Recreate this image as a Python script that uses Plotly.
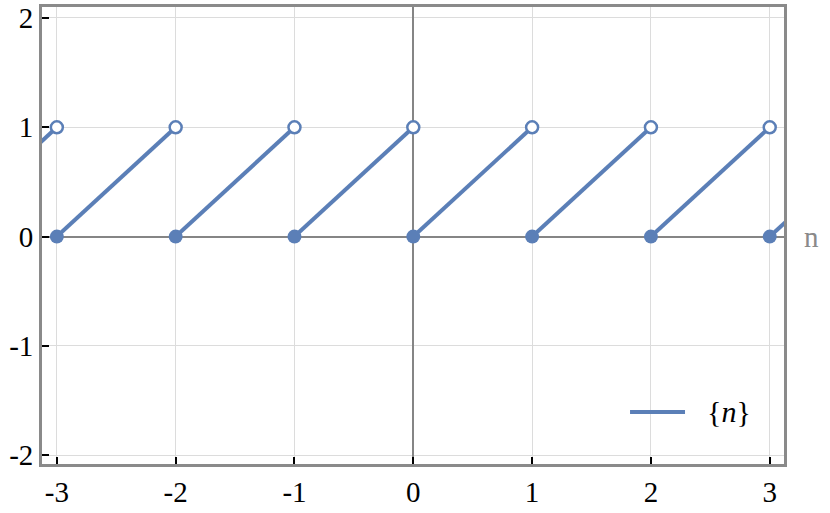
import plotly.graph_objects as go

# sawtooth {n}: one segment per unit interval, None breaks between them
seg_x = [-4, -3, None, -3, -2, None, -2, -1, None, -1, 0, None,
         0, 1, None, 1, 2, None, 2, 3, None, 3, 4]
seg_y = [0, 1, None, 0, 1, None, 0, 1, None, 0, 1, None,
         0, 1, None, 0, 1, None, 0, 1, None, 0, 1]

# filled dots (value taken) and open dots (value not taken)
closed_x = [-3, -2, -1, 0, 1, 2, 3]
closed_y = [0, 0, 0, 0, 0, 0, 0]
open_x = [-3, -2, -1, 0, 1, 2, 3]
open_y = [1, 1, 1, 1, 1, 1, 1]

x_ticks = [-3, -2, -1, 0, 1, 2, 3]
x_labels = ["-3", "-2", "-1", "0", "1", "2", "3"]
y_ticks = [-2, -1, 0, 1, 2]
y_labels = ["-2", "-1", "0", "1", "2"]

series_name = "{<i>n</i>}"

blue = "#5b7fb7"
serif = "Liberation Serif"

fig = go.Figure()

fig.add_trace(go.Scatter(x=seg_x, y=seg_y, mode="lines",
                         line=dict(color=blue, width=4),
                         name=series_name, showlegend=False))
fig.add_trace(go.Scatter(x=closed_x, y=closed_y, mode="markers",
                         marker=dict(color=blue, size=14),
                         showlegend=False, cliponaxis=False))
fig.add_trace(go.Scatter(x=open_x, y=open_y, mode="markers",
                         marker=dict(color="white", size=12,
                                     line=dict(color=blue, width=2.5)),
                         showlegend=False, cliponaxis=False))

axis_common = dict(showline=True, mirror=True, linecolor="#8a8a8a", linewidth=2.8,
                   showgrid=True, gridcolor="#dcdcdc", gridwidth=1.3,
                   zeroline=True, zerolinecolor="#858585", zerolinewidth=1.6,
                   ticks="inside", ticklen=7, tickcolor="black", tickwidth=1.5,
                   automargin=False,
                   tickfont=dict(family=serif, size=29, color="black"))

fig.update_xaxes(range=[-3.125, 3.12], tickvals=x_ticks, ticktext=x_labels, **axis_common)
fig.update_yaxes(range=[-2.08, 2.1], tickvals=y_ticks, ticktext=y_labels, **axis_common)

# axis label at the right end of the x axis
fig.add_annotation(x=1, xref="paper", y=0, yref="y", text="n", showarrow=False,
                   xanchor="left", xshift=18,
                   font=dict(family=serif, size=29, color="#8a8a8a"))

# legend drawn by hand so the sample line is as long as in the original
fig.add_shape(type="line", xref="paper", yref="paper",
              x0=0.7925, x1=0.8666, y0=0.114, y1=0.114,
              line=dict(color=blue, width=4))
fig.add_annotation(x=0.8935, xref="paper", y=0.114, yref="paper", text=series_name,
                   showarrow=False, xanchor="left", yanchor="middle",
                   font=dict(family=serif, size=30, color="black"))

fig.update_layout(
    width=830, height=513,
    margin=dict(l=42, r=46, t=7, b=49),
    font=dict(family=serif),
    plot_bgcolor="white", paper_bgcolor="white",
    showlegend=False,
)

# drop the default body margin so the figure sits at the window corner
fig.write_html("out.html", config={"displayModeBar": False},
               post_script="document.body.style.margin='0';")
